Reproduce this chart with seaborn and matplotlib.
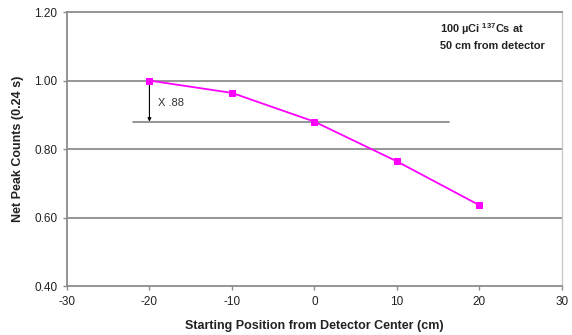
import matplotlib
matplotlib.use("Agg")
import matplotlib.pyplot as plt
import seaborn as sns
import pandas as pd

positions = [-20, -10, 0, 10, 20]
counts = [1.00, 0.964, 0.880, 0.764, 0.636]
x_ticks = [-30, -20, -10, 0, 10, 20, 30]
y_ticks = [0.40, 0.60, 0.80, 1.00, 1.20]
ref_level = 0.88
ref_span = [-22.0, 16.3]

sns.set_theme(style="white")
plt.rcParams['font.family'] = ['Liberation Sans', 'DejaVu Sans']
plt.rcParams['mathtext.default'] = 'regular'

df = pd.DataFrame({"pos": positions, "counts": counts})

fig = plt.figure(figsize=(5.72, 3.35), dpi=100)
ax = fig.add_axes([0.117, 0.146, 0.8655, 0.818])

grid_c = "#8c8c8c"
for yv in y_ticks[1:-1]:
    ax.axhline(yv, color=grid_c, lw=1.3, zorder=1)

ax.plot(ref_span, [ref_level, ref_level], color=grid_c, lw=1.3, zorder=1)
ax.annotate("", xy=(-20, ref_level), xytext=(-20, 1.0),
            arrowprops=dict(arrowstyle="-|>", color="black", lw=0.8,
                            mutation_scale=5, shrinkA=0, shrinkB=0), zorder=2)
ax.text(-19.0, 0.934, "X .88", fontsize=8, color="#333333", va="center", ha="left")

sns.lineplot(data=df, x="pos", y="counts", ax=ax, color="#ff00ff", lw=1.3,
             marker="s", markersize=5, markeredgecolor="#ff00ff", zorder=3)

ax.text(15.2, 1.172, "100 \u00b5Ci $^{137}$Cs at\n50 cm from detector", fontsize=7.9,
        fontweight="bold", color="#222222", va="top", ha="left", linespacing=1.45)

ax.set_xlim(-30, 30)
ax.set_ylim(0.40, 1.20)
ax.set_xticks(x_ticks)
ax.set_yticks(y_ticks)
ax.set_xticklabels([f"{v}" for v in x_ticks])
ax.set_yticklabels([f"{v:.2f}" for v in y_ticks])
ax.tick_params(axis="both", labelsize=8.5, labelcolor="#222222", length=3, width=1,
               direction="out", bottom=True, left=True, color=grid_c, pad=4)
for s in ["left", "bottom", "top"]:
    ax.spines[s].set_color(grid_c)
    ax.spines[s].set_linewidth(1.3)
ax.spines["right"].set_color("#c8c8c8")
ax.spines["right"].set_linewidth(1.0)

ax.set_xlabel("Starting Position from Detector Center (cm)", fontsize=9,
              fontweight="bold", color="#222222", labelpad=9)
ax.set_ylabel("Net Peak Counts (0.24 s)", fontsize=9, fontweight="bold",
              color="#222222", labelpad=7)

fig.savefig("out.png", dpi=100)
